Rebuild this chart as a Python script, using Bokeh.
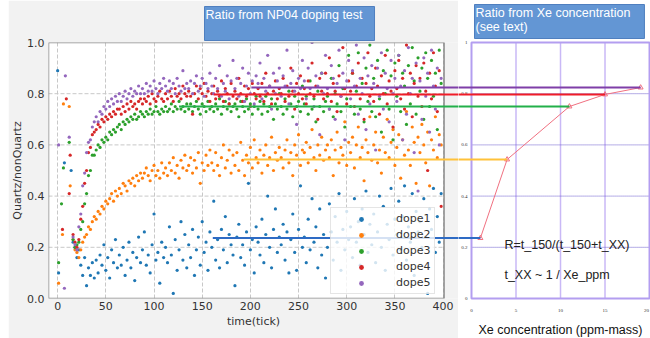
from bokeh.plotting import figure
from bokeh.models import Range1d, FixedTicker, Label, LabelSet, Arrow, ColumnDataSource, PrintfTickFormatter, Spacer
from bokeh.layouts import row, column
from bokeh.embed import file_html
from bokeh.resources import INLINE

# ---------------- data ----------------
ticks = [
    16, 18, 20, 22, 24, 26, 28, 30, 32, 34, 36, 38,
    40, 42, 44, 46, 48, 50, 52, 54, 56, 58, 60, 62,
    64, 66, 68, 70, 72, 74, 76, 78, 80, 82, 84, 86,
    88, 90, 92, 94, 96, 98, 100, 102, 104, 106, 108, 110,
    112, 114, 116, 118, 120, 122, 124, 126, 128, 130, 132, 134,
    136, 138, 140, 142, 144, 146, 148, 150, 152, 154, 156, 158,
    160, 162, 164, 166, 168, 170, 172, 174, 176, 178, 180, 182,
    184, 186, 188, 190, 192, 194, 196, 198, 200, 202, 204, 206,
    208, 210, 212, 214, 216, 218, 220, 222, 224, 226, 228, 230,
    232, 234, 236, 238, 240, 242, 244, 246, 248, 250, 252, 254,
    256, 258, 260, 262, 264, 266, 268, 270, 272, 274, 276, 278,
    280, 282, 284, 286, 288, 290, 292, 294, 296, 298, 300, 302,
    304, 306, 308, 310, 312, 314, 316, 318, 320, 322, 324, 326,
    328, 330, 332, 334, 336, 338, 340, 342, 344, 346, 348, 350,
    352, 354, 356, 358, 360, 362, 364, 366, 368, 370, 372, 374,
    376, 378, 380, 382, 384, 386, 388, 390, 392, 394, 396, 398,
]

dope1 = [
    0.22, 0.20, 0.16, 0.19, 0.13, 0.09, 0.16, 0.05, 0.12, 0.09, 0.14, 0.08,
    0.15, 0.10, 0.17, 0.13, 0.21, 0.11, 0.16, 0.08, 0.19, 0.14, 0.23, 0.12,
    0.17, 0.13, 0.20, 0.09, 0.15, 0.22, 0.12, 0.18, 0.07, 0.16, 0.24, 0.14,
    0.19, 0.26, 0.13, 0.17, 0.10, 0.21, 0.33, 0.15, 0.18, 0.06, 0.22, 0.16,
    0.20, 0.14, 0.28, 0.17, 0.02, 0.23, 0.11, 0.19, 0.30, 0.15, 0.25, 0.12,
    0.21, 0.16, 0.27, 0.09, 0.19, 0.24, 0.13, 0.30, 0.18, 0.22, 0.11, 0.26,
    0.20, 0.38, 0.15, 0.23, 0.12, 0.27, 0.19, 0.32, 0.14, 0.25, 0.21, 0.17,
    0.05, 0.24, 0.29, 0.16, 0.21, 0.13, 0.26, 0.45, 0.19, 0.23, 0.10, 0.28,
    0.22, 0.17, 0.31, 0.14, 0.25, 0.40, 0.20, 0.12, 0.27, 0.35, 0.18, 0.24,
    0.21, 0.29, 0.15, 0.26, 0.10, 0.23, 0.33, 0.18, 0.11, 0.27, 0.44, 0.20,
    0.24, 0.14, 0.31, 0.19, 0.39, 0.22, 0.28, 0.12, 0.35, 0.17, 0.25, 0.08,
    0.20, 0.37, 0.26, 0.15, 0.32, 0.22, 0.41, 0.11, 0.27, 0.19, 0.34, 0.23,
    0.28, 0.16, 0.39, 0.22, 0.30, 0.13, 0.35, 0.25, 0.42, 0.18, 0.29, 0.21,
    0.33, 0.14, 0.26, 0.40, 0.20, 0.36, 0.11, 0.29, 0.23, 0.43, 0.17, 0.31,
    0.25, 0.38, 0.19, 0.32, 0.44, 0.15, 0.28, 0.22, 0.41, 0.09, 0.34, 0.26,
    0.30, 0.20, 0.39, 0.24, 0.02, 0.35, 0.27, 0.43, 0.18, 0.32, 0.22, 0.41,
]
dope2 = [
    0.23, 0.19, 0.18, 0.16, 0.19, 0.22, 0.24, 0.25, 0.28, 0.27, 0.30, 0.32,
    0.31, 0.34, 0.33, 0.36, 0.35, 0.38, 0.37, 0.39, 0.41, 0.38, 0.42, 0.40,
    0.43, 0.41, 0.45, 0.44, 0.42, 0.46, 0.45, 0.47, 0.44, 0.48, 0.46, 0.49,
    0.47, 0.49, 0.51, 0.48, 0.46, 0.50, 0.52, 0.48, 0.50, 0.47, 0.53, 0.49,
    0.51, 0.48, 0.53, 0.50, 0.55, 0.49, 0.52, 0.47, 0.54, 0.51, 0.56, 0.50,
    0.52, 0.55, 0.49, 0.54, 0.51, 0.57, 0.45, 0.53, 0.50, 0.56, 0.52, 0.58,
    0.53, 0.50, 0.57, 0.52, 0.48, 0.55, 0.60, 0.51, 0.54, 0.58, 0.49, 0.56,
    0.52, 0.57, 0.50, 0.61, 0.54, 0.48, 0.56, 0.53, 0.59, 0.51, 0.62, 0.55,
    0.53, 0.58, 0.49, 0.56, 0.60, 0.52, 0.55, 0.63, 0.50, 0.57, 0.54, 0.59,
    0.55, 0.51, 0.58, 0.62, 0.53, 0.57, 0.48, 0.60, 0.56, 0.64, 0.52, 0.58,
    0.57, 0.61, 0.53, 0.59, 0.66, 0.55, 0.50, 0.60, 0.56, 0.63, 0.54, 0.58,
    0.60, 0.55, 0.62, 0.48, 0.58, 0.65, 0.53, 0.59, 0.56, 0.69, 0.52, 0.61,
    0.57, 0.63, 0.51, 0.60, 0.67, 0.55, 0.59, 0.46, 0.62, 0.57, 0.71, 0.54,
    0.60, 0.65, 0.53, 0.58, 0.49, 0.63, 0.57, 0.70, 0.55, 0.61, 0.66, 0.52,
    0.59, 0.64, 0.47, 0.62, 0.56, 0.73, 0.58, 0.52, 0.67, 0.61, 0.45, 0.63,
    0.57, 0.68, 0.60, 0.53, 0.65, 0.44, 0.62, 0.58, 0.71, 0.55, 0.64, 0.60,
]
dope3 = [
    0.23, 0.20, 0.21, 0.22, 0.27, 0.30, 0.37, 0.41, 0.48, 0.50, 0.56, 0.56,
    0.58, 0.60, 0.59, 0.62, 0.61, 0.63, 0.62, 0.65, 0.64, 0.66, 0.65, 0.67,
    0.68, 0.66, 0.69, 0.68, 0.70, 0.69, 0.71, 0.70, 0.72, 0.70, 0.71, 0.73,
    0.72, 0.71, 0.73, 0.72, 0.74, 0.72, 0.73, 0.75, 0.73, 0.72, 0.74, 0.73,
    0.75, 0.73, 0.74, 0.76, 0.73, 0.75, 0.74, 0.77, 0.74, 0.75, 0.73, 0.76,
    0.74, 0.76, 0.73, 0.75, 0.77, 0.74, 0.72, 0.76, 0.75, 0.73, 0.77, 0.74,
    0.75, 0.73, 0.76, 0.74, 0.78, 0.72, 0.75, 0.77, 0.74, 0.76, 0.73, 0.75,
    0.76, 0.74, 0.71, 0.77, 0.75, 0.73, 0.78, 0.74, 0.76, 0.72, 0.75, 0.79,
    0.74, 0.77, 0.72, 0.76, 0.79, 0.73, 0.75, 0.78, 0.70, 0.76, 0.74, 0.80,
    0.75, 0.72, 0.78, 0.74, 0.81, 0.76, 0.71, 0.79, 0.75, 0.77, 0.73, 0.83,
    0.76, 0.79, 0.72, 0.85, 0.74, 0.78, 0.69, 0.81, 0.75, 0.88, 0.73, 0.77,
    0.79, 0.74, 0.86, 0.71, 0.80, 0.76, 0.91, 0.73, 0.82, 0.67, 0.78, 0.95,
    0.75, 0.88, 0.72, 0.81, 0.96, 0.74, 0.84, 0.69, 0.90, 0.77, 0.99, 0.73,
    0.86, 0.71, 0.93, 0.78, 0.65, 0.89, 0.80, 0.97, 0.74, 0.87, 0.62, 0.92,
    0.79, 0.95, 0.73, 0.88, 0.83, 0.68, 0.91, 0.76, 0.98, 0.85, 0.72, 0.94,
    0.81, 0.90, 0.70, 0.96, 0.86, 0.75, 0.93, 0.79, 0.88, 0.66, 0.97, 0.84,
]
dope4 = [
    0.25, 0.22, 0.20, 0.23, 0.31, 0.36, 0.45, 0.50, 0.57, 0.59, 0.64, 0.65,
    0.66, 0.68, 0.67, 0.70, 0.69, 0.71, 0.70, 0.72, 0.71, 0.73, 0.72, 0.74,
    0.74, 0.72, 0.75, 0.73, 0.76, 0.74, 0.77, 0.75, 0.76, 0.74, 0.77, 0.78,
    0.76, 0.78, 0.77, 0.79, 0.76, 0.80, 0.78, 0.77, 0.79, 0.81, 0.78, 0.77,
    0.80, 0.78, 0.81, 0.79, 0.77, 0.82, 0.79, 0.80, 0.78, 0.83, 0.80, 0.79,
    0.81, 0.79, 0.72, 0.80, 0.83, 0.78, 0.82, 0.80, 0.84, 0.79, 0.81, 0.77,
    0.80, 0.83, 0.78, 0.81, 0.79, 0.85, 0.77, 0.82, 0.80, 0.76, 0.84, 0.79,
    0.81, 0.78, 0.86, 0.80, 0.77, 0.83, 0.79, 0.82, 0.75, 0.84, 0.80, 0.78,
    0.82, 0.79, 0.84, 0.77, 0.88, 0.80, 0.83, 0.76, 0.81, 0.85, 0.78, 0.82,
    0.80, 0.86, 0.77, 0.83, 0.79, 0.90, 0.81, 0.74, 0.84, 0.80, 0.87, 0.78,
    0.82, 0.76, 0.85, 0.80, 0.92, 0.79, 0.83, 0.70, 0.86, 0.81, 0.78, 0.88,
    0.80, 0.94, 0.77, 0.84, 0.81, 0.73, 0.87, 0.79, 0.98, 0.82, 0.76, 0.85,
    0.81, 0.88, 0.75, 0.83, 0.92, 0.78, 0.86, 0.70, 0.84, 0.96, 0.79, 0.82,
    0.77, 0.90, 0.83, 0.72, 0.87, 0.80, 0.95, 0.76, 0.85, 0.81, 0.67, 0.89,
    0.82, 0.93, 0.78, 0.86, 0.74, 0.99, 0.80, 0.88, 0.71, 0.84, 0.91, 0.79,
    0.86, 0.75, 0.92, 0.81, 0.50, 0.88, 0.78, 0.96, 0.83, 0.73, 0.89, 0.36,
]
dope5 = [
    0.24, 0.21, 0.19, 0.28, 0.33, 0.44, 0.49, 0.57, 0.61, 0.62, 0.67, 0.69,
    0.71, 0.69, 0.73, 0.72, 0.75, 0.74, 0.77, 0.75, 0.78, 0.76, 0.79, 0.77,
    0.80, 0.77, 0.79, 0.81, 0.78, 0.80, 0.82, 0.79, 0.81, 0.80, 0.83, 0.80,
    0.82, 0.80, 0.84, 0.81, 0.83, 0.81, 0.85, 0.82, 0.80, 0.84, 0.82, 0.86,
    0.83, 0.81, 0.85, 0.82, 0.84, 0.80, 0.86, 0.83, 0.81, 0.89, 0.82, 0.84,
    0.82, 0.85, 0.80, 0.84, 0.87, 0.81, 0.83, 0.86, 0.79, 0.84, 0.82, 0.88,
    0.83, 0.80, 0.86, 0.82, 0.91, 0.79, 0.84, 0.81, 0.87, 0.78, 0.85, 0.93,
    0.82, 0.86, 0.79, 0.84, 0.90, 0.77, 0.83, 0.88, 0.80, 0.85, 0.76, 0.87,
    0.84, 0.92, 0.78, 0.86, 0.81, 0.95, 0.83, 0.74, 0.88, 0.80, 0.85, 0.90,
    0.79, 0.87, 0.83, 0.97, 0.76, 0.84, 0.89, 0.81, 0.68, 0.86, 0.82, 0.93,
    0.85, 0.78, 0.90, 0.82, 1.00, 0.75, 0.87, 0.83, 0.64, 0.88, 0.80, 0.95,
    0.82, 0.74, 0.91, 0.86, 0.70, 0.84, 0.97, 0.79, 0.88, 0.62, 0.85, 0.93,
    0.78, 0.89, 0.83, 0.99, 0.72, 0.86, 0.80, 0.94, 0.66, 0.87, 0.76, 0.91,
    0.84, 0.58, 0.90, 0.79, 0.96, 0.74, 0.88, 0.82, 0.69, 0.93, 0.80, 0.86,
    0.77, 0.95, 0.83, 0.62, 0.89, 0.72, 0.98, 0.80, 0.86, 0.57, 0.92, 0.42,
    0.85, 0.70, 0.94, 0.79, 0.88, 0.65, 0.97, 0.83, 0.74, 0.90, 0.60, 0.86,
]

# first few ticks (before the dip), sparse points
early_t = {
    "dope1": [0, 1, 7, 14],
    "dope2": [1, 5, 6, 12, 13],
    "dope3": [1, 4, 6, 12],
    "dope4": [5, 9, 12, 13],
    "dope5": [1, 7, 8, 12],
}
early_v = {
    "dope1": [0.89, 0.10, 0.53, 0.50],
    "dope2": [0.06, 0.25, 0.76, 0.75, 0.44],
    "dope3": [0.14, 0.37, 0.51, 0.61],
    "dope4": [0.27, 0.78, 0.41, 0.56],
    "dope5": [0.60, 0.04, 0.87, 0.63],
}

series_names = ["dope1", "dope2", "dope3", "dope4", "dope5"]
series_values = [dope1, dope2, dope3, dope4, dope5]
series_colors = ["#1f77b4", "#ff7f0e", "#2ca02c", "#d62728", "#9467bd"]

x_ticks_left = [0, 50, 100, 150, 200, 250, 300, 350, 400]
y_ticks = [0.0, 0.2, 0.4, 0.6, 0.8, 1.0]
y_inner = [0.2, 0.4, 0.6, 0.8]
left_xlim = (-9.5, 401)      # matplotlib axes box
left_ylim = (0.0, 1.0)

# plateau read-outs, carried over to the Xe plot
plateau_start = [161, 193, 126, 162, 201]      # tick where each guide line starts
xe_ppm = [1, 4, 11, 15, 19]
xe_ratio = [0.236, 0.543, 0.750, 0.797, 0.824]
guide_colors = ["#2e6bc4", "#ffc23a", "#22b04a", "#f01c28", "#7f3fa8"]

x_ticks_right = [0, 5, 10, 15, 20]
x_tick_text_right = ["0", "5", "10", "15", "20"]
x_inner_right = [5, 10, 15]
right_xlim = (0, 20)
right_ylim = (0.0, 1.0)
right_ytick_text = ["0", "0.2", "0.4", "0.6", "0.8", "1"]

FONT_MPL = "DejaVu Sans"
FONT_PPT = "Liberation Sans"
PANEL = "#f2f2f2"
BOX_BLUE = "#6396d4"
BOX_EDGE = "#4f7fbf"

# ---------------- left panel: NP04 doping test ----------------
p1 = figure(width=450, height=338, x_range=Range1d(-9.5, 416), y_range=Range1d(*left_ylim),
            output_backend="svg", toolbar_location=None,
            min_border_left=39, min_border_right=0, min_border_top=42, min_border_bottom=40)
p1.border_fill_color = PANEL
p1.background_fill_color = PANEL
p1.outline_line_color = None

# white axes area, dashed grid, grey box
p1.quad(left=[left_xlim[0]], right=[left_xlim[1]], bottom=[left_ylim[0]], top=[left_ylim[1]],
        fill_color="white", line_color=None, level="image")
p1.xgrid.grid_line_color = "#c8c8c8"
p1.xgrid.grid_line_dash = "4 2"
p1.xgrid.grid_line_width = 1
p1.ygrid.visible = False
p1.segment(x0=[left_xlim[0]] * len(y_inner), x1=[left_xlim[1]] * len(y_inner), y0=y_inner, y1=y_inner,
           line_color="#c8c8c8", line_dash="4 2", line_width=1, level="underlay")

for name, vals, col in zip(series_names, series_values, series_colors):
    xs = early_t[name] + ticks
    ys = early_v[name] + vals
    p1.scatter(xs, ys, size=3.2, fill_color=col, line_color=None, legend_label=name)

p1.quad(left=[left_xlim[0]], right=[left_xlim[1]], bottom=[left_ylim[0]], top=[left_ylim[1]],
        fill_color=None, line_color="#8a8a8a", line_width=1.5)

p1.xaxis.ticker = FixedTicker(ticks=x_ticks_left)
p1.yaxis.ticker = FixedTicker(ticks=y_ticks)
p1.yaxis.formatter = PrintfTickFormatter(format="%.1f")
p1.xaxis.axis_label = "time(tick)"
p1.yaxis.axis_label = "Quartz/nonQuartz"
for ax in (p1.xaxis, p1.yaxis):
    ax.axis_line_color = None
    ax.major_tick_out = 0
    ax.major_tick_in = 0
    ax.minor_tick_out = 0
    ax.minor_tick_in = 0
    ax.major_label_text_font = FONT_MPL
    ax.major_label_text_font_size = "11px"
    ax.major_label_text_color = "#333333"
    ax.axis_label_text_font = FONT_MPL
    ax.axis_label_text_font_size = "11px"
    ax.axis_label_text_font_style = "normal"
    ax.axis_label_text_color = "#333333"
p1.xaxis.major_label_standoff = 3
p1.xaxis.axis_label_standoff = 2
p1.yaxis.major_label_standoff = 4
p1.yaxis.axis_label_standoff = 0

lg = p1.legend[0]
lg.location = (282, 4)
lg.label_text_font = FONT_MPL
lg.label_text_font_size = "11px"
lg.label_text_color = "#333333"
lg.label_height = 12
lg.glyph_height = 12
lg.glyph_width = 52
lg.label_standoff = 9
lg.padding = 4
lg.spacing = 3
lg.margin = 0
lg.background_fill_color = "white"
lg.background_fill_alpha = 0.8
lg.border_line_color = "#cccccc"

for t0, lvl, col in zip(plateau_start, xe_ratio, guide_colors):
    p1.add_layout(Arrow(end=None, x_start=t0, y_start=lvl, x_end=470, y_end=lvl,
                        line_color=col, line_width=2))

p1.title.text = "Ratio from NP04 doping test\n "
p1.title.align = "left"
p1.title.offset = 156
p1.title.standoff = 4
p1.title.text_font = FONT_PPT
p1.title.text_font_size = "12.5px"
p1.title.text_font_style = "normal"
p1.title.text_color = "white"
p1.title.background_fill_color = BOX_BLUE
p1.title.border_line_color = BOX_EDGE
p1.title.padding = (1, 12, 1, 5)

# ---------------- right panel: Xe concentration ----------------
# frame spans the whole panel below the title box; 256 px per unit of ratio, 8.9 px per ppm
p2 = figure(width=192, height=338, x_range=Range1d(-1.46, 20.11), y_range=Range1d(-0.15625, 1.0156),
            output_backend="svg", toolbar_location=None,
            x_axis_location=None, y_axis_location=None,
            min_border_left=0, min_border_right=0, min_border_top=38, min_border_bottom=0)
p2.border_fill_color = "white"
p2.background_fill_color = "white"
p2.outline_line_color = None
p2.grid.visible = False

p2.segment(x0=x_inner_right, x1=x_inner_right, y0=[right_ylim[0]] * 3, y1=[right_ylim[1]] * 3,
           line_color="#c9b8f6", line_width=1.5, level="underlay")
p2.segment(x0=[right_xlim[0]] * len(y_inner), x1=[right_xlim[1]] * len(y_inner), y0=y_inner, y1=y_inner,
           line_color="#6a5acd", line_dash="1 1", line_width=1, level="underlay")
p2.quad(left=[right_xlim[0]], right=[right_xlim[1]], bottom=[right_ylim[0]], top=[right_ylim[1]],
        fill_color=None, line_color="#b39ef0", line_width=2)

# tick labels of the small PowerPoint chart
ytl = ColumnDataSource(data=dict(y=y_ticks, x=[-0.45] * len(y_ticks), text=right_ytick_text))
p2.add_layout(LabelSet(x="x", y="y", text="text", source=ytl, text_align="right", text_baseline="middle",
                       text_font=FONT_PPT, text_font_size="5px", text_color="#333333"))
xtl = ColumnDataSource(data=dict(x=x_ticks_right, y=[-0.047] * len(x_ticks_right),
                                 dx=[0, 0, 0, 0, -3], text=x_tick_text_right))
p2.add_layout(LabelSet(x="x", y="y", x_offset="dx", text="text", source=xtl, text_align="center",
                       text_baseline="middle", text_font=FONT_PPT, text_font_size="5px",
                       text_color="#333333"))
p2.add_layout(Label(x=10, y=-0.124, text="Xe concentration (ppm-mass)", text_align="center",
                    text_baseline="middle", text_font=FONT_PPT, text_font_size="12.5px",
                    text_color="#111111"))

p2.line(xe_ppm, xe_ratio, line_color="#f07080", line_width=1)
p2.scatter(xe_ppm, xe_ratio, marker="triangle", size=5, fill_color=None, line_color="#f07080")

for ppm, lvl, col in zip(xe_ppm, xe_ratio, guide_colors):
    p2.add_layout(Arrow(end=None, x_start=-3, y_start=lvl, x_end=ppm, y_end=lvl,
                        line_color=col, line_width=2))

p2.add_layout(Label(x=3.7, y=0.21, text="R=t_150/(t_150+t_XX)", text_font=FONT_PPT,
                    text_font_size="12.5px", text_color="#222222", text_baseline="middle"))
p2.add_layout(Label(x=3.7, y=0.09, text="t_XX ~ 1 / Xe_ppm", text_font=FONT_PPT,
                    text_font_size="12.5px", text_color="#222222", text_baseline="middle"))

p2.title.text = "Ratio from Xe concentration\n(see text)"
p2.title.align = "left"
p2.title.offset = 16
p2.title.standoff = 0
p2.title.text_font = FONT_PPT
p2.title.text_font_size = "12.5px"
p2.title.text_font_style = "normal"
p2.title.text_color = "white"
p2.title.background_fill_color = BOX_BLUE
p2.title.border_line_color = BOX_EDGE
p2.title.padding = (1, 14, 1, 5)

# the right panel sits in its own column so that its frame is not aligned with the left one
layout = row(Spacer(width=8, height=338), p1, column(p2))
open("out.html", "w").write(file_html(layout, INLINE))
